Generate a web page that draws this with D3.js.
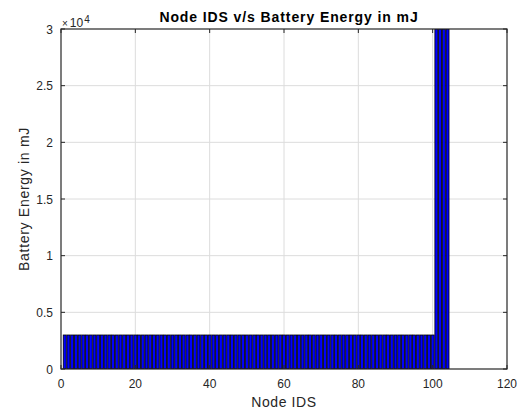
<!DOCTYPE html>
<html>
<head>
<meta charset="utf-8">
<script src="https://cdn.jsdelivr.net/npm/d3@7"></script>
<style>
  html, body { margin: 0; padding: 0; background: #fff; }
  svg { display: block; font-family: "Liberation Sans", Arial, Helvetica, sans-serif; }
</style>
</head>
<body>
<svg id="chart" width="518" height="410"></svg>
<script>
// Battery energy (mJ) per node: nodes 1-100 regular, 101-104 high-capacity
const nodeIds = d3.range(1, 105);
const energy = nodeIds.map(id => (id <= 100 ? 3000 : 30000));
const xTicks = [0, 20, 40, 60, 80, 100, 120];
const yTicks = [0, 5000, 10000, 15000, 20000, 25000, 30000];

const svg = d3.select("#chart");
const margin = { left: 61, right: 11, top: 29, bottom: 41 };
const W = 518, H = 410;
const x = d3.scaleLinear().domain([0, 120]).range([margin.left, W - margin.right]);
const y = d3.scaleLinear().domain([0, 30000]).range([H - margin.bottom, margin.top]);

const tickColor = "#262626";
const x0 = x.range()[0], x1 = x.range()[1];
const y0 = y.range()[0], y1 = y.range()[1];

// Grid
svg.append("g").selectAll("line").data(xTicks.slice(1, -1)).join("line")
  .attr("x1", d => x(d)).attr("x2", d => x(d)).attr("y1", y0).attr("y2", y1)
  .attr("stroke", "#dcdcdc").attr("stroke-width", 1);
svg.append("g").selectAll("line").data(yTicks.slice(1, -1)).join("line")
  .attr("y1", d => y(d)).attr("y2", d => y(d)).attr("x1", x0).attr("x2", x1)
  .attr("stroke", "#dcdcdc").attr("stroke-width", 1);

// Bars (width 0.8 of a unit), clipped to the axes box
svg.append("clipPath").attr("id", "clip").append("rect")
  .attr("x", x0).attr("y", y1).attr("width", x1 - x0).attr("height", y0 - y1);
const bw = x(0.8) - x(0);
svg.append("g").attr("clip-path", "url(#clip)")
  .selectAll("rect").data(nodeIds).join("rect")
  .attr("x", d => x(d) - bw / 2)
  .attr("width", bw)
  .attr("y", (d, i) => y(energy[i]))
  .attr("height", (d, i) => y(0) - y(energy[i]))
  .attr("fill", "#0000ff")
  .attr("stroke", "#000")
  .attr("stroke-width", 0.8);

// Axes box
svg.append("rect").attr("x", x0).attr("y", y1).attr("width", x1 - x0).attr("height", y0 - y1)
  .attr("fill", "none").attr("stroke", tickColor).attr("stroke-width", 1.2);

// Inward ticks on all four sides
const tl = 4;
xTicks.forEach(t => {
  svg.append("line").attr("x1", x(t)).attr("x2", x(t)).attr("y1", y0).attr("y2", y0 - tl).attr("stroke", tickColor);
  svg.append("line").attr("x1", x(t)).attr("x2", x(t)).attr("y1", y1).attr("y2", y1 + tl).attr("stroke", tickColor);
});
yTicks.forEach(t => {
  svg.append("line").attr("y1", y(t)).attr("y2", y(t)).attr("x1", x0).attr("x2", x0 + tl).attr("stroke", tickColor);
  svg.append("line").attr("y1", y(t)).attr("y2", y(t)).attr("x1", x1).attr("x2", x1 - tl).attr("stroke", tickColor);
});

// Tick labels
svg.append("g").selectAll("text").data(xTicks).join("text")
  .attr("x", d => x(d)).attr("y", y0 + 19)
  .attr("text-anchor", "middle").attr("font-size", 12).attr("fill", tickColor)
  .text(d => d);
svg.append("g").selectAll("text").data(yTicks).join("text")
  .attr("x", x0 - 8).attr("y", d => y(d) + 4.5)
  .attr("text-anchor", "end").attr("font-size", 12).attr("fill", tickColor)
  .text(d => d3.format("~g")(d / 10000));

// Exponent
const ex = svg.append("text").attr("x", x0 + 1).attr("y", 26.5).attr("fill", tickColor);
ex.append("tspan").attr("font-size", 10).text("\u00d7");
ex.append("tspan").attr("dx", 2).attr("font-size", 12).text("10");
ex.append("tspan").attr("dx", 1).attr("dy", -4).attr("font-size", 10).text("4");

// Title and axis labels
svg.append("text").attr("x", (x0 + x1) / 2 + 5).attr("y", 22)
  .attr("text-anchor", "middle").attr("font-size", 14).attr("font-weight", "bold")
  .attr("letter-spacing", 0.9).attr("fill", "#000")
  .text("Node IDS v/s Battery Energy in mJ");
svg.append("text").attr("x", (x0 + x1) / 2).attr("y", 407)
  .attr("text-anchor", "middle").attr("font-size", 14).attr("letter-spacing", 0.6).attr("fill", tickColor)
  .text("Node IDS");
svg.append("text")
  .attr("transform", `translate(28.5,${(y0 + y1) / 2}) rotate(-90)`)
  .attr("text-anchor", "middle").attr("font-size", 14).attr("letter-spacing", 0.7).attr("fill", tickColor)
  .text("Battery Energy in mJ");
</script>
</body>
</html>
